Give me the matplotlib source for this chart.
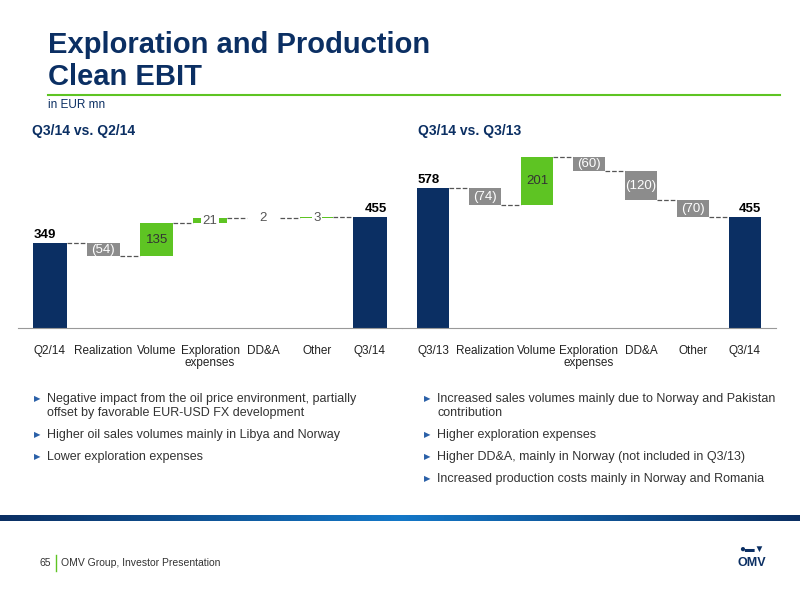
import numpy as np
import matplotlib
matplotlib.use("Agg")
import matplotlib.pyplot as plt
from matplotlib.colors import LinearSegmentedColormap

plt.rcParams['font.family'] = ['Liberation Sans', 'DejaVu Sans']

NAVY = "#0b2f63"
GREEN = "#5ec423"
GRAY = "#8c8c8c"

cats = ["Q2/14", "Realization", "Volume", "Exploration\nexpenses", "DD&A", "Other", "Q3/14"]
left_start, left_end = 349, 455
left_deltas = [-54, 135, 21, 2, 3]

cats_r = ["Q3/13", "Realization", "Volume", "Exploration\nexpenses", "DD&A", "Other", "Q3/14"]
right_start, right_end = 578, 455
right_deltas = [-74, 201, -60, -120, -70]

bullets_left = ["Negative impact from the oil price environment, partially\noffset by favorable EUR-USD FX development",
                "Higher oil sales volumes mainly in Libya and Norway",
                "Lower exploration expenses"]
bullets_right = ["Increased sales volumes mainly due to Norway and Pakistan\ncontribution",
                 "Higher exploration expenses",
                 "Higher DD&A, mainly in Norway (not included in Q3/13)",
                 "Increased production costs mainly in Norway and Romania"]

W, H = 800, 600
fig = plt.figure(figsize=(8, 6), dpi=100)


def px(x0, y0, x1, y1):
    return [x0 / W, 1 - y1 / H, (x1 - x0) / W, (y1 - y0) / H]


def waterfall(ax, labels, start, deltas, end):
    x = np.arange(len(labels))
    w = 0.62
    ax.bar(0, start, w, color=NAVY)
    ax.bar(len(labels) - 1, end, w, color=NAVY)
    ax.text(0 - w / 2, start + 8, str(start), fontsize=9.5, fontweight="bold", ha="left", va="bottom")
    ax.text(len(labels) - 1 + w / 2, end + 8, str(end), fontsize=9.5, fontweight="bold", ha="right", va="bottom")
    level = start
    for i, d in enumerate(deltas, start=1):
        new = level + d
        col = GREEN if d > 0 else GRAY
        ax.bar(i, d, w, bottom=level, color=col)
        ax.plot([i - 1 + w / 2, i - w / 2], [level, level], ls="--", color="#555555", lw=0.9)
        txt = str(d) if d > 0 else f"({-d})"
        mid = (level + new) / 2
        if abs(d) >= 40:
            ax.text(i, mid, txt, ha="center", va="center", fontsize=9.5,
                    color="#333333" if d > 0 else "white")
        else:
            ax.text(i, mid, txt, ha="center", va="center", fontsize=9.5, color="#555555",
                    bbox=dict(fc="white", ec="none", pad=1))
        level = new
    ax.plot([len(labels) - 2 + w / 2, len(labels) - 1 - w / 2], [level, level], ls="--", color="#555555", lw=0.9)
    ax.set_xlim(-0.6, len(labels) - 0.4)
    ax.set_ylim(0, 720)
    ax.set_xticks(x)
    ax.set_xticklabels(labels, fontsize=8.5, color="#222222", linespacing=1.0)
    ax.tick_params(length=0, pad=12)
    ax.set_yticks([])
    for s in ["top", "right", "left"]:
        ax.spines[s].set_visible(False)
    ax.spines["bottom"].set_color("#999999")


ax1 = fig.add_axes(px(18, 153, 402, 328))
waterfall(ax1, cats, left_start, left_deltas, left_end)
ax2 = fig.add_axes(px(402, 153, 776, 328))
waterfall(ax2, cats_r, right_start, right_deltas, right_end)

# header
fig.text(48 / W, 1 - 45 / H, "Exploration and Production", fontsize=21, fontweight="bold", color=NAVY, va="center")
fig.text(48 / W, 1 - 77 / H, "Clean EBIT", fontsize=21, fontweight="bold", color=NAVY, va="center")
fig.add_artist(plt.Line2D([48 / W, 780 / W], [1 - 95 / H] * 2, color=GREEN, lw=1.5))
fig.text(48 / W, 1 - 105 / H, "in EUR mn", fontsize=8.5, color=NAVY, va="center")
fig.text(32 / W, 1 - 131 / H, "Q3/14 vs. Q2/14", fontsize=10, fontweight="bold", color=NAVY, va="center")
fig.text(418 / W, 1 - 131 / H, "Q3/14 vs. Q3/13", fontsize=10, fontweight="bold", color=NAVY, va="center")


def bullets(x, items):
    y = 400
    for it in items:
        fig.text(x / W, 1 - y / H, "\u25B6", fontsize=6, color="#2a60a8", va="center")
        fig.text((x + 13) / W, 1 - (y - 7) / H, it, fontsize=9, color="#333333", va="top", linespacing=1.25)
        y += 22 + 14 * it.count("\n")


bullets(34, bullets_left)
bullets(424, bullets_right)

# footer band
band = fig.add_axes(px(0, 515, 800, 521))
cmap = LinearSegmentedColormap.from_list("b", [NAVY, "#1478c8", NAVY])
band.imshow(np.linspace(0, 1, 256)[None, :], aspect="auto", cmap=cmap)
band.axis("off")
fig.text(40 / W, 1 - 563 / H, "65", fontsize=7.5, color="#333333", va="center")
fig.add_artist(plt.Line2D([56 / W] * 2, [1 - 555 / H, 1 - 571 / H], color=GREEN, lw=1))
fig.text(61 / W, 1 - 563 / H, "OMV Group, Investor Presentation", fontsize=7.5, color="#333333", va="center")
fig.text(752 / W, 1 - 549 / H, "\u25CF\u25AC\u25BC", fontsize=7, color=NAVY, ha="center", va="center")
fig.text(752 / W, 1 - 563 / H, "OMV", fontsize=9, fontweight="bold", color=NAVY, ha="center", va="center")

fig.savefig("out.png", dpi=100)
